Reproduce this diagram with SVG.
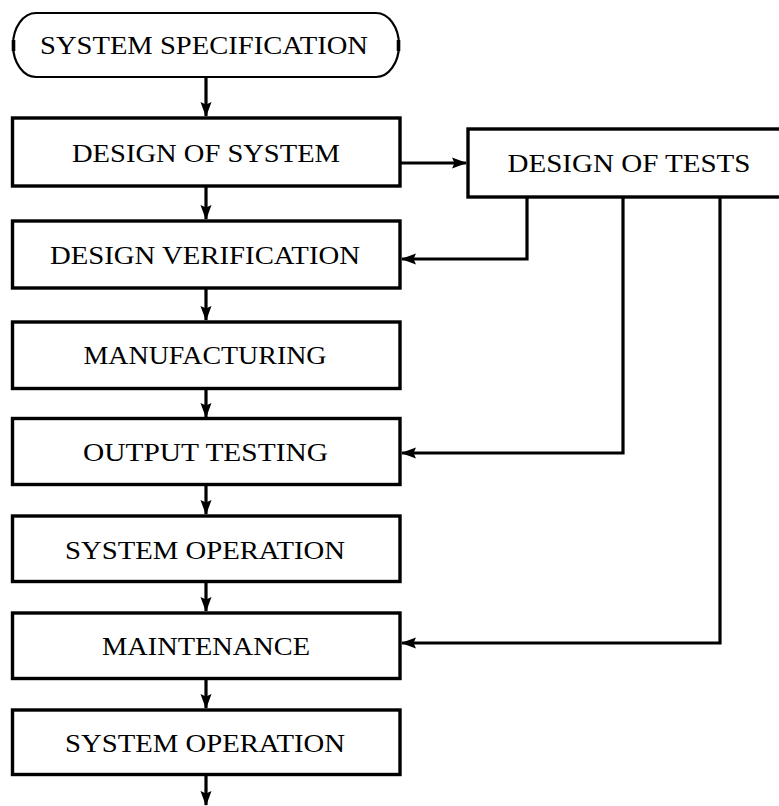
<svg xmlns="http://www.w3.org/2000/svg" width="779" height="806" viewBox="0 0 779 806">
  <style>
    .box { fill: #fff; stroke: #000; stroke-width: 3.4; }
    .term { fill: none; stroke: #000; stroke-width: 2.2; }
    .stub { stroke: #000; stroke-width: 3.6; }
    .lbl { font-family: "Liberation Serif", "Times New Roman", serif; font-size: 26px; fill: #000; text-anchor: middle; }
    .wire { fill: none; stroke: #000; stroke-width: 3.2; }
  </style>
  <defs>
    <marker id="head" viewBox="0 0 15 12" refX="14" refY="6" markerWidth="15" markerHeight="12" markerUnits="userSpaceOnUse" orient="auto">
      <path d="M0,0.5 L15,6 L0,11.5 L2.5,6 Z" fill="#000"/>
    </marker>
  </defs>

  <!-- connectors -->
  <g id="connectors">
    <line class="wire" x1="206" y1="78" x2="206" y2="116" marker-end="url(#head)"/>
    <line class="wire" x1="206" y1="186" x2="206" y2="219" marker-end="url(#head)"/>
    <line class="wire" x1="206" y1="288" x2="206" y2="320" marker-end="url(#head)"/>
    <line class="wire" x1="206" y1="388" x2="206" y2="417" marker-end="url(#head)"/>
    <line class="wire" x1="206" y1="485" x2="206" y2="514" marker-end="url(#head)"/>
    <line class="wire" x1="206" y1="582" x2="206" y2="611" marker-end="url(#head)"/>
    <line class="wire" x1="206" y1="679" x2="206" y2="708" marker-end="url(#head)"/>
    <line class="wire" x1="206" y1="776" x2="206" y2="805" marker-end="url(#head)"/>
    <line class="wire" x1="401" y1="163" x2="466" y2="163" marker-end="url(#head)"/>
    <polyline class="wire" points="527,197 527,259 402,259" marker-end="url(#head)"/>
    <polyline class="wire" points="623,197 623,453 402,453" marker-end="url(#head)"/>
    <polyline class="wire" points="720,197 720,643 402,643" marker-end="url(#head)"/>
  </g>

  <!-- terminal node -->
  <g id="system-specification">
    <path class="term" d="M36,13 L376,13 A23,32 0 0 1 376,77 L36,77 A23,32 0 0 1 36,13 Z" fill="#fff"/>
    <line class="stub" x1="13.5" y1="40" x2="13.5" y2="51"/>
    <line class="stub" x1="398.5" y1="40" x2="398.5" y2="51"/>
    <text class="lbl" x="204" y="53.5" textLength="328" lengthAdjust="spacingAndGlyphs">SYSTEM SPECIFICATION</text>
  </g>

  <g id="design-of-system">
    <rect class="box" x="12.5" y="118" width="387.5" height="68"/>
    <text class="lbl" x="206" y="161.5" textLength="268" lengthAdjust="spacingAndGlyphs">DESIGN OF SYSTEM</text>
  </g>

  <g id="design-of-tests">
    <rect class="box" x="468" y="129" width="320" height="68"/>
    <text class="lbl" x="629" y="171.5" textLength="243" lengthAdjust="spacingAndGlyphs">DESIGN OF TESTS</text>
  </g>

  <g id="design-verification">
    <rect class="box" x="12.5" y="221" width="387.5" height="67"/>
    <text class="lbl" x="205" y="264" textLength="310" lengthAdjust="spacingAndGlyphs">DESIGN VERIFICATION</text>
  </g>

  <g id="manufacturing">
    <rect class="box" x="12.5" y="322" width="387.5" height="66.5"/>
    <text class="lbl" x="205" y="363.5" textLength="243" lengthAdjust="spacingAndGlyphs">MANUFACTURING</text>
  </g>

  <g id="output-testing">
    <rect class="box" x="12.5" y="418.5" width="387.5" height="66"/>
    <text class="lbl" x="205.5" y="460.8" textLength="245" lengthAdjust="spacingAndGlyphs">OUTPUT TESTING</text>
  </g>

  <g id="system-operation-1">
    <rect class="box" x="12.5" y="516" width="387.5" height="65.5"/>
    <text class="lbl" x="205" y="559" textLength="280" lengthAdjust="spacingAndGlyphs">SYSTEM OPERATION</text>
  </g>

  <g id="maintenance">
    <rect class="box" x="12.5" y="613" width="387.5" height="65.5"/>
    <text class="lbl" x="206" y="655" textLength="208" lengthAdjust="spacingAndGlyphs">MAINTENANCE</text>
  </g>

  <g id="system-operation-2">
    <rect class="box" x="12.5" y="710" width="387.5" height="64.5"/>
    <text class="lbl" x="205" y="751.5" textLength="280" lengthAdjust="spacingAndGlyphs">SYSTEM OPERATION</text>
  </g>
</svg>
